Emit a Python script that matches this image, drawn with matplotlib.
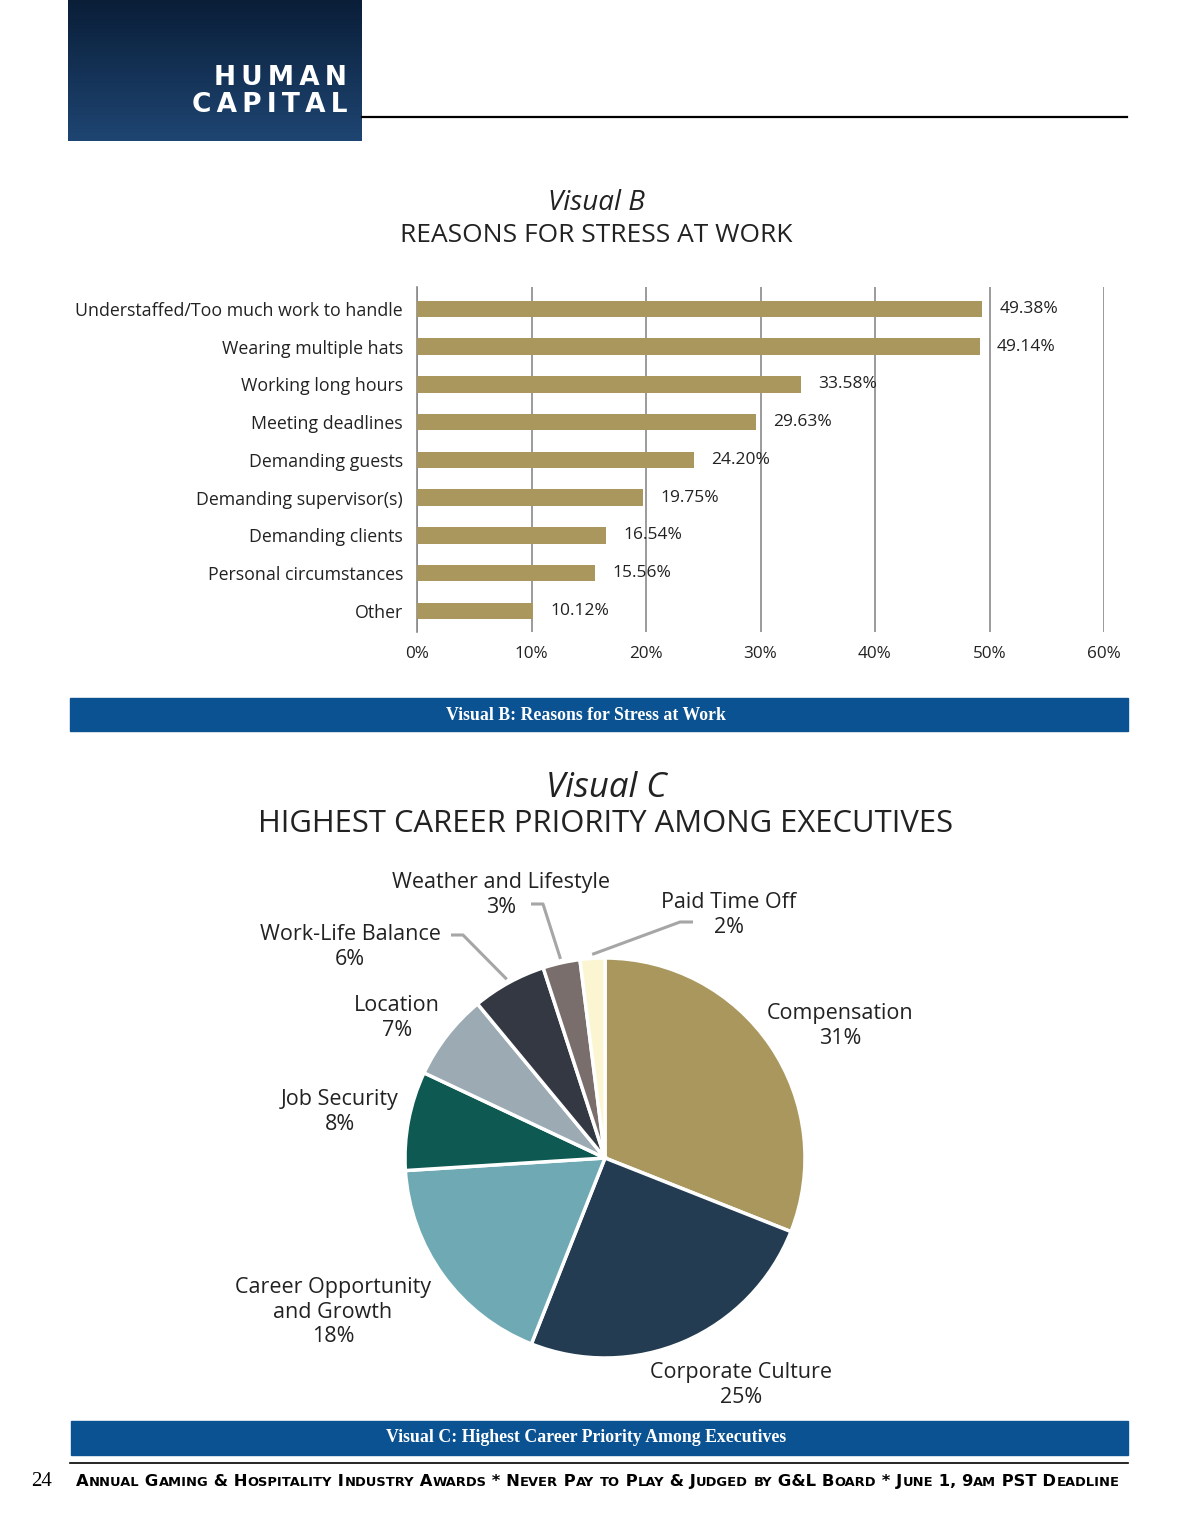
import numpy as np
import matplotlib
matplotlib.use('Agg')
import matplotlib.pyplot as plt
from matplotlib.patches import Rectangle

plt.rcParams['font.family'] = ['Open Sans', 'DejaVu Sans']

# Visual B data
reasons = ['Understaffed/Too much work to handle', 'Wearing multiple hats', 'Working long hours',
           'Meeting deadlines', 'Demanding guests', 'Demanding supervisor(s)', 'Demanding clients',
           'Personal circumstances', 'Other']
stress_pct = [49.38, 49.14, 33.58, 29.63, 24.20, 19.75, 16.54, 15.56, 10.12]
x_ticks = [0, 10, 20, 30, 40, 50, 60]

# Visual C data
priorities = ['Compensation', 'Corporate Culture', 'Career Opportunity\nand Growth', 'Job Security',
              'Location', 'Work-Life Balance', 'Weather and Lifestyle', 'Paid Time Off']
priority_pct = [31, 25, 18, 8, 7, 6, 3, 2]
pie_colors = ['#A9975E', '#233C51', '#6FAAB4', '#0E5A52', '#9BAAB3', '#333842', '#7A6E6C', '#FBF6D1']

footer = 'Annual Gaming & Hospitality Industry Awards * Never Pay to Play & Judged by G&L Board * June 1, 9am PST Deadline'

W, H = 1200, 1535
fig = plt.figure(figsize=(W / 100, H / 100), dpi=100)

# page decoration layer in pixel coordinates
bg = fig.add_axes([0, 0, 1, 1])
bg.set_xlim(0, W)
bg.set_ylim(H, 0)
bg.axis('off')

grad = np.linspace(0, 1, 100).reshape(-1, 1)
cmap = matplotlib.colors.LinearSegmentedColormap.from_list('hdr', ['#0A1E38', '#1E4572'])
bg.imshow(grad, cmap=cmap, extent=[68, 362, 141, 0], aspect='auto', zorder=1)
bg.text(347, 78, '\u2009'.join('HUMAN'), color='white', fontsize=19, fontweight='bold',
        ha='right', va='center', family=['DejaVu Sans'], zorder=2)
bg.text(347, 105, '\u2009'.join('CAPITAL'), color='white', fontsize=19,
        fontweight='bold', ha='right', va='center', family=['DejaVu Sans'], zorder=2)
bg.plot([362, 1127], [117, 117], color='black', lw=1.6)

bg.text(596, 203, 'Visual B', fontsize=20, style='italic', ha='center', va='center', color='#222222')
bg.text(596, 235, 'REASONS FOR STRESS AT WORK', fontsize=19, ha='center', va='center', color='#222222')

bg.add_patch(Rectangle((70, 698), 1058, 33, color='#0A5291'))
bg.text(586, 715, 'Visual B: Reasons for Stress at Work', color='white', fontsize=12.8,
        fontweight='bold', ha='center', va='center', family=['Liberation Serif'])

bg.text(606, 788, 'Visual C', fontsize=25, style='italic', ha='center', va='center', color='#222222')
bg.text(606, 824, 'HIGHEST CAREER PRIORITY AMONG EXECUTIVES', fontsize=22.3, ha='center', va='center',
        color='#222222')

bg.add_patch(Rectangle((71, 1421), 1057, 34, color='#0A5291'))
bg.text(586, 1438, 'Visual C: Highest Career Priority Among Executives', color='white', fontsize=12.8,
        fontweight='bold', ha='center', va='center', family=['Liberation Serif'])
bg.plot([70, 1128], [1463, 1463], color='black', lw=1.2)
bg.text(42, 1481, '24', fontsize=15, ha='center', va='center', family=['Liberation Serif'])

# footer in faux small caps: lowercase letters drawn as smaller capitals
renderer = fig.canvas.get_renderer()
inv = bg.transData.inverted()
runs = []
for ch in footer:
    small = ch.islower()
    if runs and runs[-1][1] == small:
        runs[-1][0] += ch
    else:
        runs.append([ch, small])
xpos = 76
for txt, small in runs:
    t = bg.text(xpos, 1486, txt.upper(), fontsize=9.4 if small else 11.75, fontweight='bold',
                ha='left', va='baseline', family=['DejaVu Sans'])
    bb = t.get_window_extent(renderer)
    xpos = inv.transform((bb.x1, bb.y0))[0]

# Visual B: horizontal bars
ax = fig.add_axes([417 / W, (H - 632) / H, 687 / W, 345 / H])
y = np.arange(len(reasons))
ax.barh(y, stress_pct, height=0.44, color='#A9975E', zorder=3)
ax.set_xlim(0, 60)
ax.set_ylim(len(reasons) - 1 + 0.56, -0.58)
ax.set_xticks(x_ticks)
ax.set_xticklabels([f'{t}%' for t in x_ticks], fontsize=12.3, color='#222222')
ax.set_yticks(y)
ax.set_yticklabels(reasons, fontsize=12.8, color='#222222')
ax.tick_params(length=0, pad=10)
ax.tick_params(axis='x', pad=10)
ax.grid(axis='x', color='#8a8a8a', lw=1.2, zorder=0)
for s in ['top', 'right', 'bottom']:
    ax.spines[s].set_visible(False)
ax.spines['left'].set_color('#8a8a8a')
ax.spines['left'].set_linewidth(1.2)
for yi, v in zip(y, stress_pct):
    ax.text(v + 1.5, yi, f'{v:.2f}%', va='center', ha='left', fontsize=12.5, color='#222222', zorder=4)

# Visual C: pie
pax = fig.add_axes([305 / W, (H - 1158 - 300) / H, 600 / W, 600 / H])
wedges, _ = pax.pie(priority_pct, colors=pie_colors, startangle=90, counterclock=False,
                    wedgeprops=dict(edgecolor='white', linewidth=2.5))
pax.set_xlim(-1.5, 1.5)
pax.set_ylim(-1.5, 1.5)

label_pos = [(1.175, 0.66), (0.68, -1.135), (-1.36, -0.77), (-1.325, 0.23), (-1.04, 0.70),
             (-1.275, 1.055), (-0.52, 1.315), (0.62, 1.215)]
for name, pct, (lx, ly) in zip(priorities, priority_pct, label_pos):
    pax.text(lx, ly, f'{name}\n{pct}%', ha='center', va='center', fontsize=15.5, color='#222222',
             linespacing=1.2)

# leader lines for the small slices: (wedge index, elbow point, label end)
leaders = [(5, (-0.71, 1.115), (-0.77, 1.115)), (6, (-0.31, 1.27), (-0.37, 1.27)),
           (7, (0.375, 1.18), (0.44, 1.18))]
for idx, elbow, end in leaders:
    w = wedges[idx]
    a = np.deg2rad((w.theta1 + w.theta2) / 2)
    edge = (1.02 * np.cos(a), 1.02 * np.sin(a))
    pax.plot([edge[0], elbow[0], end[0]], [edge[1], elbow[1], end[1]], color='#a6a6a6', lw=2.2,
             solid_capstyle='butt')

fig.savefig('out.png', dpi=100)
